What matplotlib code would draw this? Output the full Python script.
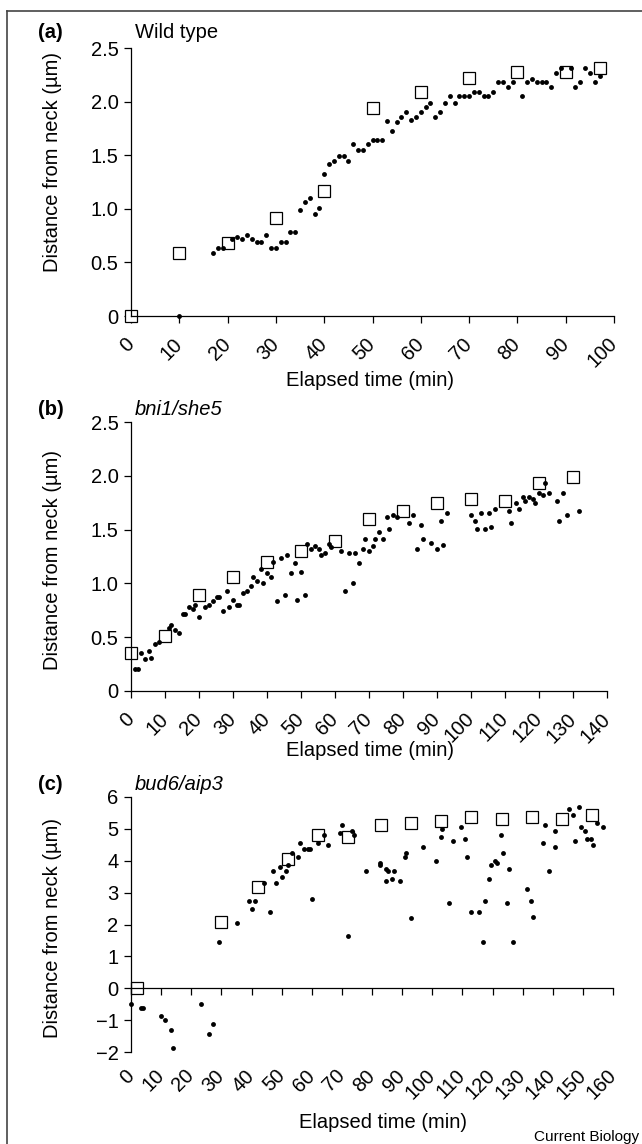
import matplotlib
matplotlib.use("Agg")
import matplotlib.pyplot as plt
from matplotlib.lines import Line2D

plt.rcParams['font.family'] = ['Liberation Sans', 'DejaVu Sans']
plt.rcParams['axes.unicode_minus'] = True
FS = 14.5

# (a) wild type
a_sq_t = [0, 10, 20, 30, 40, 50, 60, 70, 80, 90, 97]
a_sq_v = [0, 0.59, 0.68, 0.91, 1.17, 1.94, 2.09, 2.22, 2.28, 2.28, 2.31]
a_dot_t = [10, 17, 18, 19, 21, 22, 23, 24, 25, 26, 27, 28, 29, 30, 31, 32, 33, 34,
           35, 36, 37, 38, 39, 40, 41, 42, 43, 44, 45, 46, 47, 48, 49, 50, 51, 52,
           53, 54, 55, 56, 57, 58, 59, 60, 61, 62, 63, 64, 65, 66, 67, 68, 69, 70,
           71, 72, 73, 74, 75, 76, 77, 78, 79, 81, 82, 83, 84, 85, 86, 87, 88, 89,
           91, 92, 93, 94, 95, 96, 97]
a_dot_v = [0.0, 0.59, 0.63, 0.63, 0.72, 0.74, 0.72, 0.76, 0.72, 0.69, 0.69, 0.76,
           0.63, 0.63, 0.69, 0.69, 0.78, 0.78, 0.985, 1.06, 1.10, 0.95, 1.01, 1.32,
           1.42, 1.45, 1.49, 1.49, 1.45, 1.60, 1.55, 1.55, 1.60, 1.64, 1.64, 1.64,
           1.82, 1.73, 1.81, 1.86, 1.90, 1.83, 1.86, 1.90, 1.95, 1.99, 1.86, 1.90,
           1.99, 2.05, 1.99, 2.05, 2.05, 2.05, 2.09, 2.09, 2.05, 2.05, 2.09, 2.18,
           2.18, 2.14, 2.18, 2.05, 2.18, 2.21, 2.18, 2.18, 2.18, 2.14, 2.27, 2.31,
           2.31, 2.14, 2.18, 2.31, 2.27, 2.18, 2.24]

# (b) bni1/she5
b_sq_t = [0, 10, 20, 30, 40, 50, 60, 70, 80, 90, 100, 110, 120, 130]
b_sq_v = [0.35, 0.515, 0.89, 1.06, 1.20, 1.30, 1.39, 1.60, 1.67, 1.75, 1.78, 1.77, 1.93, 1.99]
b_dot_t = [1.2, 2.0, 2.9, 4.1, 5.3, 5.9, 7.1, 8.2, 11.2, 11.8, 12.9, 14.1, 15.3, 15.9,
           17.1, 18.2, 18.8, 20.0, 21.8, 22.9, 24.1, 25.3, 25.9, 27.1, 28.2, 28.8,
           30.0, 31.2, 31.8, 32.9, 34.1, 35.3, 35.9, 37.1, 38.2, 38.8, 40.0, 41.2,
           41.8, 43.0, 44.1, 45.3, 45.9, 47.1, 48.2, 48.8, 50.0, 51.2, 51.8, 52.9,
           54.1, 55.3, 55.9, 57.1, 58.2, 58.8, 61.8, 62.9, 64.1, 65.3, 65.9, 67.1,
           68.2, 68.8, 70.0, 71.2, 71.8, 72.9, 74.1, 75.4, 76.0, 77.2, 78.3, 81.9,
           83.0, 84.2, 85.4, 86.0, 88.3, 90.1, 91.3, 91.9, 93.0, 100.1, 101.3, 101.9,
           103.0, 104.2, 105.4, 106.0, 107.2, 111.3, 111.9, 113.1, 114.2, 115.4,
           116.0, 117.2, 118.3, 118.9, 120.1, 121.2, 121.8, 123.0, 125.4, 126.0,
           127.2, 128.3, 131.8]
b_dot_v = [0.20, 0.20, 0.35, 0.295, 0.37, 0.31, 0.44, 0.46, 0.59, 0.61, 0.57, 0.54,
           0.72, 0.72, 0.78, 0.76, 0.80, 0.69, 0.78, 0.80, 0.835, 0.87, 0.87, 0.74,
           0.93, 0.78, 0.85, 0.80, 0.80, 0.91, 0.93, 0.98, 1.06, 1.02, 1.13, 1.00,
           1.10, 1.06, 1.20, 0.835, 1.24, 0.89, 1.26, 1.10, 1.185, 0.85, 1.11, 0.89,
           1.37, 1.32, 1.35, 1.32, 1.26, 1.28, 1.37, 1.34, 1.30, 0.93, 1.28, 1.00,
           1.28, 1.185, 1.32, 1.41, 1.30, 1.35, 1.41, 1.48, 1.41, 1.62, 1.505, 1.635,
           1.62, 1.56, 1.635, 1.32, 1.54, 1.41, 1.375, 1.32, 1.58, 1.36, 1.65, 1.635,
           1.58, 1.505, 1.65, 1.505, 1.65, 1.52, 1.69, 1.67, 1.56, 1.75, 1.69, 1.80,
           1.77, 1.80, 1.78, 1.75, 1.84, 1.82, 1.93, 1.84, 1.77, 1.58, 1.84, 1.635,
           1.67]

# (c) bud6/aip3
c_sq_t = [2, 30, 42, 52, 62, 72, 83, 93, 103, 113, 123, 133, 143, 153]
c_sq_v = [0, 2.07, 3.19, 4.06, 4.82, 4.75, 5.12, 5.18, 5.24, 5.37, 5.30, 5.37, 5.30, 5.43]
c_dot_t = [0, 3.3, 4.0, 10.0, 11.3, 13.3, 14.0, 23.3, 26.0, 27.3, 29.3, 35.3, 39.3,
           40.0, 41.3, 44.0, 46.0, 47.3, 48.0, 49.3, 50.0, 51.3, 52.0, 53.3, 55.3,
           56.0, 57.3, 58.7, 59.3, 60.0, 62.0, 64.0, 65.3, 69.3, 70.0, 72.0, 73.3,
           74.0, 78.0, 82.8, 82.8, 84.8, 85.4, 84.8, 86.8, 87.4, 89.4, 90.8, 91.4,
           92.8, 96.8, 101.4, 102.8, 103.4, 105.4, 106.8, 109.4, 110.8, 111.4, 112.8,
           115.4, 116.8, 117.4, 118.8, 119.4, 120.8, 121.4, 122.8, 123.4, 124.8,
           125.4, 126.8, 131.4, 132.8, 133.4, 136.8, 137.4, 138.8, 140.8, 140.8,
           145.4, 146.8, 147.4, 148.8, 149.4, 150.8, 151.4, 152.8, 153.4, 154.8, 156.8]
c_dot_v = [-0.49, -0.61, -0.61, -0.86, -0.99, -1.30, -1.86, -0.49, -1.42, -1.11,
           1.44, 2.06, 2.75, 2.50, 2.75, 3.31, 2.38, 3.69, 3.31, 3.81, 3.50, 3.69,
           3.87, 4.25, 4.12, 4.56, 4.37, 4.37, 4.37, 2.81, 4.56, 4.81, 4.50, 4.87,
           5.12, 1.63, 4.93, 4.81, 3.69, 3.93, 3.87, 3.75, 3.69, 3.37, 3.44, 3.69,
           3.37, 4.12, 4.25, 2.19, 4.43, 4.00, 4.75, 4.99, 2.69, 4.62, 5.06, 4.68,
           4.12, 2.38, 2.38, 1.44, 2.75, 3.44, 3.87, 4.00, 3.93, 4.81, 4.25, 2.69,
           3.75, 1.44, 3.12, 2.75, 2.25, 4.56, 5.12, 3.69, 4.93, 4.43, 5.62, 5.43,
           4.62, 5.68, 5.06, 4.93, 4.68, 4.68, 4.50, 5.18, 5.06]

a_yticks = [0, 0.5, 1.0, 1.5, 2.0, 2.5]
a_ylabels = ['0', '0.5', '1.0', '1.5', '2.0', '2.5']
b_yticks = a_yticks
b_ylabels = a_ylabels
c_yticks = [-2, -1, 0, 1, 2, 3, 4, 5, 6]

W, H = 642, 1144
fig = plt.figure(figsize=(W / 100, H / 100), dpi=100)


def box(l, t, r, b):
    return [l / W, 1 - b / H, (r - l) / W, (b - t) / H]


def draw(ax, sq_t, sq_v, dot_t, dot_v):
    ax.plot(sq_t, sq_v, 's', ms=8.3, mfc='white', mec='black', mew=0.9,
            clip_on=False, zorder=2)
    ax.plot(dot_t, dot_v, 'o', ms=3.5, color='black', mew=0, clip_on=False, zorder=3)


def style(ax, xmax, yticks, ylabels, pad):
    ax.spines[['top', 'right']].set_visible(False)
    ax.spines[['left', 'bottom']].set_linewidth(0.9)
    ax.set_xticks(range(0, xmax + 1, 10), [str(v) for v in range(0, xmax + 1, 10)])
    ax.set_yticks(yticks, ylabels)
    ax.tick_params(direction='out', length=5, width=0.9, labelsize=FS)
    ax.tick_params(axis='y', pad=4)
    ax.tick_params(axis='x', pad=pad)
    plt.setp(ax.get_xticklabels(), rotation=45, ha='right', va='center',
             rotation_mode='anchor')


def labels(ax, xl, xr, yt, yb, xlab_xy, ylab_xy):
    # place axis titles by their centres, given in figure pixels
    ax.set_xlabel('Elapsed time (min)', fontsize=FS, va='center')
    ax.xaxis.set_label_coords((xlab_xy[0] - xl) / (xr - xl), (yb - xlab_xy[1]) / (yb - yt))
    ax.set_ylabel('Distance from neck (µm)', fontsize=FS, va='center')
    ax.yaxis.set_label_coords((ylab_xy[0] - xl) / (xr - xl), (yb - ylab_xy[1]) / (yb - yt))


# panel a
ax1 = fig.add_axes(box(131, 48, 614, 316))
draw(ax1, a_sq_t, a_sq_v, a_dot_t, a_dot_v)
ax1.set_xlim(0, 100)
ax1.set_ylim(0, 2.5)
style(ax1, 100, a_yticks, a_ylabels, 13)
labels(ax1, 131, 614, 48, 316, (370, 381), (53, 162))

# panel b
ax2 = fig.add_axes(box(131, 422, 607, 691))
draw(ax2, b_sq_t, b_sq_v, b_dot_t, b_dot_v)
ax2.set_xlim(0, 140)
ax2.set_ylim(0, 2.5)
style(ax2, 140, b_yticks, b_ylabels, 13)
labels(ax2, 131, 607, 422, 691, (370, 751), (53, 560))

# panel c: x axis crosses at zero, tick labels stay at the bottom
ax3 = fig.add_axes(box(131, 797, 613, 1052))
draw(ax3, c_sq_t, c_sq_v, c_dot_t, c_dot_v)
ax3.set_xlim(0, 160)
ax3.set_ylim(-2, 6)
style(ax3, 160, c_yticks, [str(v).replace('-', '\u2212') for v in c_yticks], 13)
ax3.spines['bottom'].set_position(('data', 0))
ax3.tick_params(axis='x', labelbottom=False)
labels(ax3, 131, 613, 797, 1052, (383, 1122), (53, 928))
sec = ax3.secondary_xaxis('bottom')
sec.set_xticks(range(0, 161, 10), [str(v) for v in range(0, 161, 10)])
sec.spines['bottom'].set_visible(False)
sec.tick_params(length=0, labelsize=FS, pad=15)
plt.setp(sec.get_xticklabels(), rotation=45, ha='right', va='center',
         rotation_mode='anchor')

# panel letters and titles
for y, letter, title in [(32, '(a)', 'Wild type'), (410, '(b)', 'bni1/she5'),
                         (784, '(c)', 'bud6/aip3')]:
    fig.text(38 / W, 1 - y / H, letter, fontsize=FS, weight='bold', va='center')
    fig.text(135 / W, 1 - y / H, title, fontsize=FS, va='center',
             style='normal' if letter == '(a)' else 'italic')

fig.text(639 / W, 1 - 1137 / H, 'Current Biology', fontsize=11, ha='right', va='center')

# outer frame (left and top edges)
fig.add_artist(Line2D([7 / W, 7 / W], [0, 1 - 10.5 / H], color='#444444', lw=1.2))
fig.add_artist(Line2D([7 / W, 1], [1 - 10.5 / H, 1 - 10.5 / H], color='#444444', lw=1.2))

fig.savefig('out.png', dpi=100)
